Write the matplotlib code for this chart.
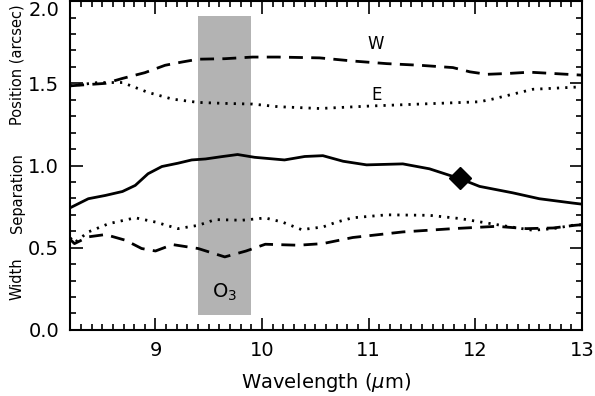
import numpy as np
import matplotlib
matplotlib.use("Agg")
import matplotlib.pyplot as plt
from matplotlib.ticker import MultipleLocator, FixedLocator

#----------------- DATA -----------------
# position of W component (dashed)
pos_w_x = [8.2, 8.53, 8.69, 8.90, 9.09, 9.25, 9.40, 9.65, 9.91, 10.15, 10.54,
           10.85, 11.17, 11.48, 11.79, 11.95, 12.11, 12.30, 12.51, 12.73, 13.0]
pos_w_y = [1.485, 1.50, 1.53, 1.565, 1.61, 1.63, 1.647, 1.65, 1.66, 1.66, 1.655,
           1.636, 1.62, 1.61, 1.596, 1.57, 1.555, 1.56, 1.568, 1.56, 1.55]

# position of E component (dotted)
pos_e_x = [8.2, 8.46, 8.69, 8.93, 9.16, 9.40, 9.65, 9.91, 10.15, 10.54,
           11.01, 11.48, 12.04, 12.16, 12.35, 12.54, 12.73, 13.0]
pos_e_y = [1.485, 1.505, 1.505, 1.445, 1.404, 1.384, 1.378, 1.374, 1.358, 1.347,
           1.362, 1.374, 1.388, 1.404, 1.434, 1.464, 1.47, 1.479]

# separation (solid)
sep_x = [8.2, 8.37, 8.53, 8.69, 8.81, 8.93, 9.06, 9.21, 9.34, 9.47, 9.62, 9.77,
         9.93, 10.21, 10.40, 10.57, 10.76, 10.98, 11.32, 11.57, 11.86, 12.04,
         12.35, 12.60, 12.91, 13.0]
sep_y = [0.743, 0.798, 0.818, 0.842, 0.879, 0.95, 0.994, 1.014, 1.034, 1.04, 1.054,
         1.067, 1.05, 1.034, 1.055, 1.06, 1.026, 1.004, 1.01, 0.98, 0.919, 0.873,
         0.834, 0.798, 0.772, 0.765]

# width of E (dotted)
wid_e_x = [8.2, 8.24, 8.37, 8.56, 8.81, 9.0, 9.21, 9.40, 9.56, 9.81, 10.03, 10.19,
           10.37, 10.57, 10.70, 10.85, 11.17, 11.57, 11.86, 12.11, 12.30, 12.54,
           12.73, 12.91, 13.0]
wid_e_y = [0.56, 0.53, 0.596, 0.646, 0.682, 0.656, 0.616, 0.636, 0.671, 0.667,
           0.681, 0.656, 0.61, 0.626, 0.656, 0.682, 0.70, 0.697, 0.677, 0.65,
           0.63, 0.606, 0.616, 0.636, 0.64]

# width of W (dashed)
wid_w_x = [8.2, 8.24, 8.37, 8.53, 8.72, 8.87, 9.0, 9.16, 9.40, 9.65, 9.85, 10.03,
           10.34, 10.57, 10.85, 11.32, 11.79, 12.20, 12.48, 12.73, 12.93, 13.0]
wid_w_y = [0.55, 0.525, 0.566, 0.58, 0.545, 0.495, 0.48, 0.519, 0.495, 0.444,
           0.48, 0.521, 0.515, 0.525, 0.562, 0.596, 0.616, 0.63, 0.616, 0.62,
           0.636, 0.64]

marker_x = [11.86]
marker_y = [0.925]

o3_band = (9.4, 9.9)
o3_ylim = (0.09, 1.91)

y_ticks = [0.0, 0.5, 1.0, 1.5, 2.0]
y_ticklabels = ['0.0', '0.5', '1.0', '1.5', '2.0']

#----------------- PLOT -----------------
plt.rcParams['font.family'] = 'DejaVu Sans'

fig = plt.figure(figsize=(5.95, 3.96), dpi=100)
ax = fig.add_axes([0.118, 0.167, 0.860, 0.830])

ax.fill_between(o3_band, o3_ylim[0], o3_ylim[1], color='#b3b3b3', lw=0, zorder=1)

ax.plot(pos_w_x, pos_w_y, color='k', lw=2, ls=(0, (5, 3)), zorder=3)
ax.plot(pos_e_x, pos_e_y, color='k', lw=2, ls=(0, (0.8, 2.2)), zorder=3)
ax.plot(sep_x, sep_y, color='k', lw=2, ls='-', zorder=3)
ax.plot(wid_e_x, wid_e_y, color='k', lw=2, ls=(0, (0.8, 2.2)), zorder=3)
ax.plot(wid_w_x, wid_w_y, color='k', lw=2, ls=(0, (5, 3)), zorder=3)
ax.plot(marker_x, marker_y, 'D', color='k', ms=11, zorder=4)

ax.text(11.07, 1.74, 'W', fontsize=12, ha='center', va='center')
ax.text(11.07, 1.43, 'E', fontsize=12, ha='center', va='center')
ax.text(9.65, 0.23, 'O$_3$', fontsize=14, ha='center', va='center')

ax.set_xlim(8.2, 13)
ax.set_ylim(0, 2.0)
ax.xaxis.set_major_locator(MultipleLocator(1))
ax.xaxis.set_minor_locator(MultipleLocator(0.1))
ax.yaxis.set_major_locator(FixedLocator(y_ticks))
ax.yaxis.set_minor_locator(MultipleLocator(0.1))
ax.set_yticklabels(y_ticklabels)
ax.get_yticklabels()[-1].set_va('top')
ax.tick_params(which='both', direction='in', top=True, right=True, width=1.2)
ax.tick_params(which='major', length=9, labelsize=14, pad=8)
ax.tick_params(which='minor', length=4.5)
for s in ax.spines.values():
    s.set_linewidth(1.5)

ax.set_xlabel('Wavelength ($\\mu$m)', fontsize=14, labelpad=8)

fig.text(0.029, 0.836, 'Position (arcsec)', rotation=90, fontsize=10.5, ha='center', va='center')
fig.text(0.029, 0.513, 'Separation', rotation=90, fontsize=10.5, ha='center', va='center')
fig.text(0.029, 0.295, 'Width', rotation=90, fontsize=10.5, ha='center', va='center')

fig.savefig('out.png', dpi=100)
